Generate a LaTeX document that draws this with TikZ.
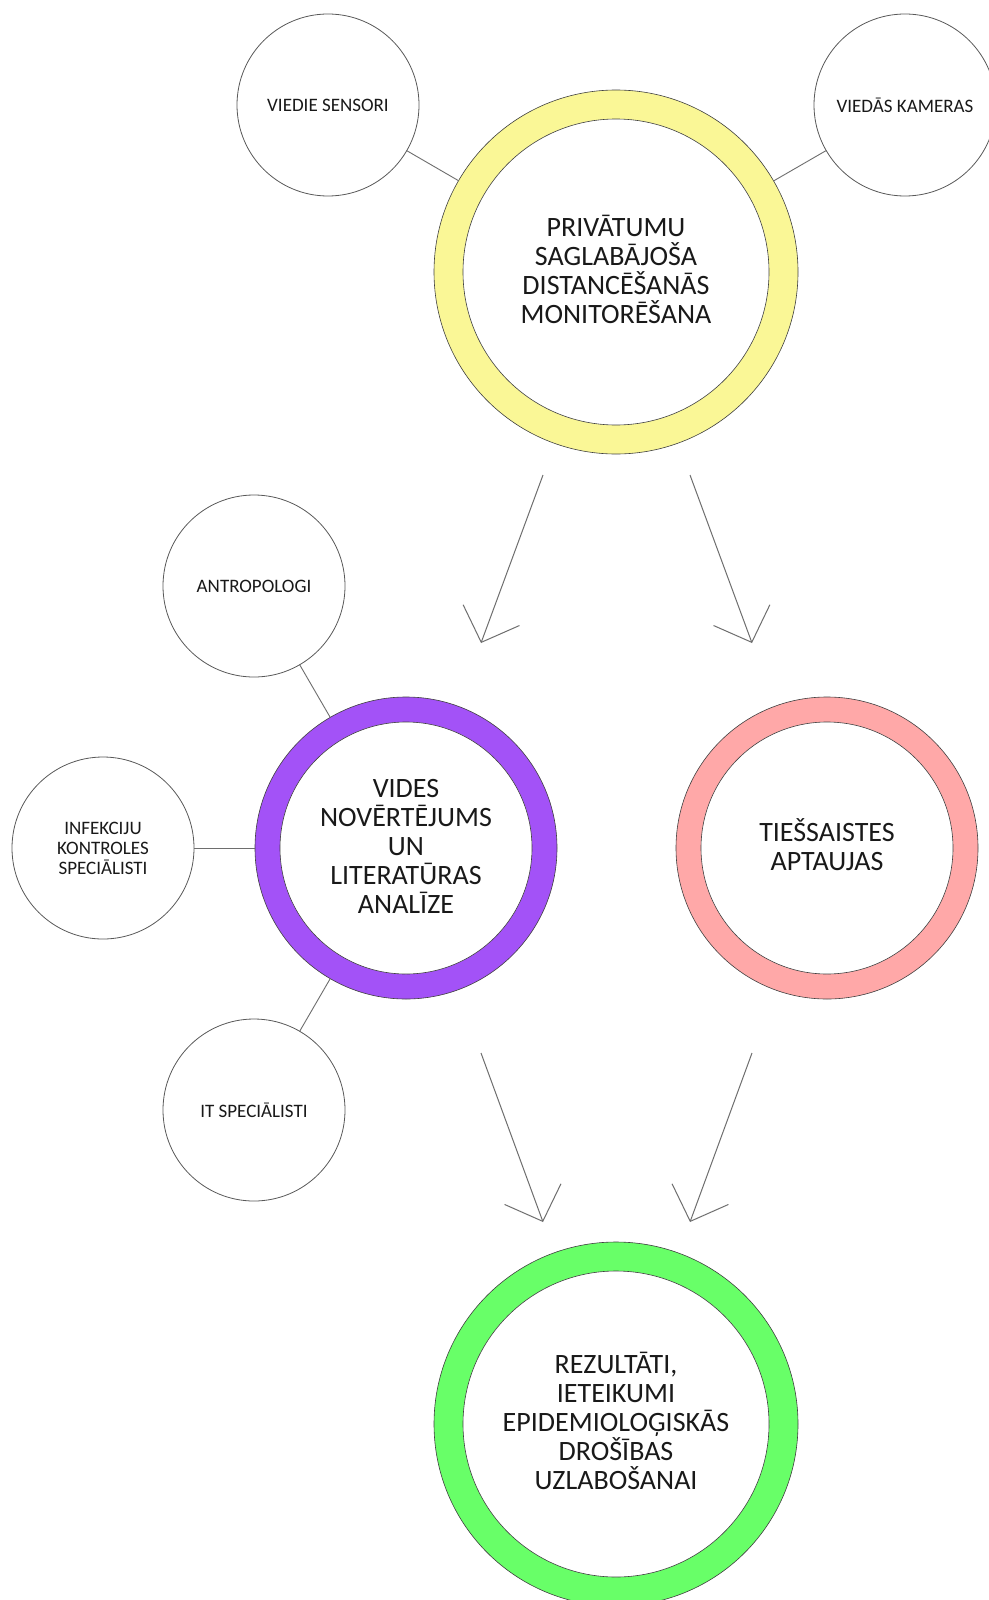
\documentclass[tikz,border=0pt]{standalone}
\usepackage{fontspec}
\setmainfont{Carlito}
\usetikzlibrary{arrows.meta}
\definecolor{ryellow}{RGB}{250,247,150}
\definecolor{rpurple}{RGB}{163,82,247}
\definecolor{rpink}{RGB}{255,168,168}
\definecolor{rgreen}{RGB}{104,255,104}
\definecolor{linegray}{RGB}{110,110,110}
\begin{document}
\begin{tikzpicture}[x=1pt,y=-1pt,
  ringouter/.style={circle, draw=black!75, line width=0.6pt, fill=#1, minimum size=364pt, inner sep=0pt, outer sep=0pt},
  ringinner/.style={circle, draw=black!75, line width=0.6pt, fill=white, minimum size=306pt, inner sep=0pt, outer sep=0pt},
  midouter/.style={circle, draw=black!75, line width=0.6pt, fill=#1, minimum size=302pt, inner sep=0pt, outer sep=0pt},
  midinner/.style={circle, draw=black!75, line width=0.6pt, fill=white, minimum size=252pt, inner sep=0pt, outer sep=0pt},
  bigtext/.style={inner sep=0pt, align=center, text=black!90, font=\fontsize{28}{29}\selectfont},
  smallc/.style={circle, draw=black!65, line width=0.8pt, fill=white, minimum size=182pt, inner sep=0pt, outer sep=0pt, align=center, text=black!90, font=\fontsize{19}{20}\selectfont},
  link/.style={draw=linegray, line width=0.9pt},
  flowarrow/.style={draw=linegray, line width=1pt, -{Straight Barb[length=29pt, width=60pt, line width=1pt]}}
]
\useasboundingbox (0,0) rectangle (988,1600);
\fill[white] (0,0) rectangle (988,1600);

% top group
\node[ringouter=ryellow] (yel) at (616,272) {};
\node[ringinner] (yeli) at (616,272) {};
\node[bigtext] (yelt) at (616,269) {PRIVĀTUMU\\SAGLABĀJOŠA\\DISTANCĒŠANĀS\\MONITORĒŠANA};
\node[smallc] (sens) at (328,105) {VIEDIE SENSORI};
\node[smallc] (cam) at (905,105) {VIEDĀS KAMERAS};
\draw[link] (sens) -- (yel);
\draw[link] (cam) -- (yel);

% middle group
\node[midouter=rpurple] (pur) at (406,848) {};
\node[midinner] (puri) at (406,848) {};
\node[bigtext] (purt) at (406,846) {VIDES\\NOVĒRTĒJUMS\\UN\\LITERATŪRAS\\ANALĪZE};
\node[midouter=rpink] (pink) at (827,848) {};
\node[midinner] (pinki) at (827,848) {};
\node[bigtext] (pinkt) at (827,845) {TIEŠSAISTES\\APTAUJAS};
\node[smallc] (antr) at (254,586) {ANTROPOLOGI};
\node[smallc] (infe) at (103,848) {INFEKCIJU\\KONTROLES\\SPECIĀLISTI};
\node[smallc] (itsp) at (254,1110) {IT SPECIĀLISTI};
\draw[link] (antr) -- (pur);
\draw[link] (infe) -- (pur);
\draw[link] (itsp) -- (pur);

% bottom group
\node[ringouter=rgreen] (grn) at (616,1424) {};
\node[ringinner] (grni) at (616,1424) {};
\node[bigtext] (grnt) at (616,1421) {REZULTĀTI,\\IETEIKUMI\\EPIDEMIOLOĢISKĀS\\DROŠĪBAS\\UZLABOŠANAI};

% arrows
\coordinate (a1s) at (543,475);
\coordinate (a1e) at (481,643);
\coordinate (a2s) at (690,475);
\coordinate (a2e) at (752,643);
\coordinate (a3s) at (481,1053);
\coordinate (a3e) at (543,1222);
\coordinate (a4s) at (752,1053);
\coordinate (a4e) at (690,1222);
\draw[flowarrow] (a1s) -- (a1e);
\draw[flowarrow] (a2s) -- (a2e);
\draw[flowarrow] (a3s) -- (a3e);
\draw[flowarrow] (a4s) -- (a4e);
\end{tikzpicture}
\end{document}
